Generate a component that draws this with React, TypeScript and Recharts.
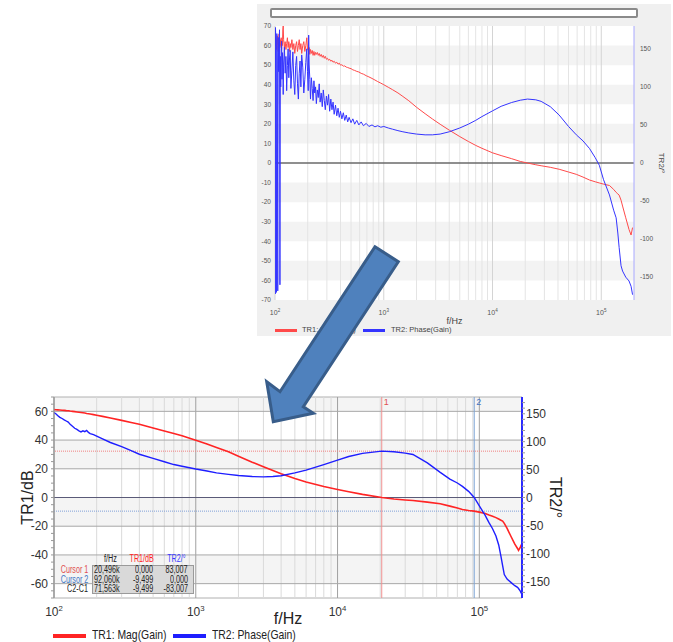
import React from "react";
import {
  LineChart,
  Line,
  XAxis,
  YAxis,
  ReferenceLine,
  ReferenceArea,
} from "recharts";

// ---- top (raw measurement) trace ----
const topFreq = [
  100, 100.5, 101, 102, 103, 104, 105, 106, 107, 108, 109, 110, 111, 112, 113, 114, 115, 116, 117, 118, 119,
  120, 122, 124, 126, 128, 130, 132, 134, 136, 138, 140, 143, 146, 149, 152, 155, 158, 161, 164, 167, 170,
  173, 176, 180, 184, 188, 192, 196, 199, 202, 204, 206, 209, 212, 216, 220, 224, 228, 232, 236, 240, 245,
  250, 255, 260, 266, 272, 278, 284, 290, 297, 304, 311, 318, 326, 334, 342, 350, 360, 370, 380, 390, 400,
  412, 425, 438, 452, 466, 480, 500, 520, 540, 565, 590, 620, 650, 690, 730, 780, 830, 880, 940, 1000,
  1100, 1200, 1350, 1500, 1700, 2000, 2400, 2800, 3300, 4000, 5000, 6000, 7000, 8000, 10000, 12000, 15000,
  18000, 21000, 25000, 28000, 34000, 41000, 50000, 59000, 68000, 78000, 88000, 96000, 105000, 119000,
  130000, 137000, 142000, 146000, 152000, 157000, 168000, 180000, 188000, 194000,
];
const topMag = [
  62, 64, 60, 63, 58, 62, 65, 60, 57, 62, 66, 61, 59, 63, 60, 64, 58, 62, 60, 68, 70,
  63, 59, 62, 58, 61, 64, 59, 62, 57, 61, 59, 63, 58, 61, 56, 60, 62, 57, 60, 63, 58,
  61, 56, 60, 62, 57, 60, 64, 58, 58, 56, 59, 55.5, 58, 56, 57.5, 55, 57, 55, 56.5, 55.5, 56.5,
  55, 56, 54.5, 55.5, 54, 55, 53.5, 54.5, 53, 53.5, 52.5, 53, 52, 52.5, 51.5, 52, 51, 51.5, 50.5, 51, 50,
  50.2, 49.5, 49.6, 49, 48.8, 48.5, 48.2, 47.6, 47.3, 46.8, 46.5, 45.8, 45.4, 44.6, 44, 43.2, 42.4, 41.6, 40.8, 40,
  38.7, 37.5, 35.8, 34, 31.8, 28.5, 25.2, 22.5, 19.8, 16.8, 13.5, 11, 9, 7.5, 5.2, 3.8, 2.2,
  0.8, 0, -0.9, -1.4, -2.2, -3.2, -4.6, -5.8, -7.2, -8.7, -9.6, -10.2, -10.8, -11.5,
  -13.5, -15, -15.8, -16.4, -19, -22, -28, -34, -36.8, -33,
];
const topPhase = [
  150, -172, 178, 160, -170, 170, 130, -168, 165, 120, 155, 175, -160, 140, 100, 150, 160, 110, 145, 125, 90,
  130, 152, 118, 140, 95, 128, 150, 112, 138, 148, 98, 122, 146, 108, 90, 128, 140, 104, 84, 118, 134,
  100, 142, 126, 92, 110, 132, 150, 120, 95, 168, 130, 110, 84, 112, 98, 82, 108, 92, 100, 78, 96,
  86, 104, 80, 92, 74, 96, 82, 70, 88, 76, 90, 68, 84, 70, 80, 64, 76, 62, 72, 60, 68,
  58, 66, 56, 63, 54, 60, 53, 58, 51, 56, 50, 54, 49, 52, 48, 50, 47.5, 49, 47, 48,
  46, 44.5, 42.5, 41, 39.5, 38, 37, 37, 38, 41, 46, 51, 56, 61, 68.5, 74.5, 79.5,
  82.5, 84, 83, 81, 74, 63, 48, 37, 29, 19, 7, -3, -22, -42,
  -62, -72, -92, -111, -135, -142, -150, -155, -162, -173,
];

// ---- bottom (smoothed) trace ----
const botFreq = [
  100, 103, 106, 110, 114, 118, 122, 126, 130, 135, 140, 145, 150, 155, 160, 165, 170, 175, 180, 190,
  200, 220, 250, 300, 350, 400, 500, 600, 700, 800, 1000, 1200, 1400, 1700, 2000, 2500, 3000, 3500,
  4000, 5000, 6000, 8000, 10000, 12000, 15000, 20500, 25000, 30000, 34000, 43000, 53000, 62000, 70000,
  76000, 84000, 92000, 100000, 110000, 117000, 124000, 131000, 137000, 142000, 146000, 150000, 157000,
  167000, 178000, 186000, 189000, 194000, 198000,
];
const botMag = [
  61.2, 61.1, 61, 60.9, 60.8, 60.7, 60.5, 60.4, 60.2, 60, 59.8, 59.6, 59.4, 59.2, 59, 58.8, 58.5, 58.3, 58.1, 57.7,
  57.3, 56.5, 55.4, 53.7, 52.3, 51, 48.4, 46.3, 44.6, 43, 39.8, 37.2, 34.8, 31.8, 28.7, 24.6, 21.5, 18.8,
  16.5, 13.2, 10.8, 7.6, 5.6, 4, 2.2, 0, -1, -1.7, -2.1, -3.2, -4.4, -6, -7.3,
  -8.3, -9, -9.5, -10.2, -11.2, -12.2, -13, -14, -15, -15.8, -16.4, -18, -21.5,
  -27, -32.5, -35.5, -36.8, -35, -32.7,
];
const botPhase = [
  152, 150, 147, 143.5, 141.5, 139, 137, 135, 131, 127.5, 124, 122, 119.5, 117.5, 119.5, 118, 120, 116.5, 114.5, 112.5,
  110, 105, 98.5, 91, 84, 77.5, 70, 64, 59, 56, 51, 47.5, 44, 41.5, 39.5, 37.5, 37, 37.5,
  39, 44, 49, 59, 67, 73.5, 79, 83, 82, 79.5, 77, 62, 45, 33, 26,
  20, 11, 0, -15, -32, -45, -56, -69, -85, -105, -122, -138, -146,
  -152, -158, -161, -163, -167, -172,
];

const decades = [100, 1000, 10000, 100000];
const minorFreq = [
  200, 300, 400, 500, 600, 700, 800, 900, 2000, 3000, 4000, 5000, 6000, 7000, 8000, 9000,
  20000, 30000, 40000, 50000, 60000, 70000, 80000, 90000,
];
const topMagTicks = [70, 60, 50, 40, 30, 20, 10, 0, -10, -20, -30, -40, -50, -60, -70];
const topPhaseTicks = [150, 100, 50, 0, -50, -100, -150];
const topBands = [[50, 60], [30, 40], [10, 20], [-20, -10], [-40, -30], [-60, -50]];
const botMagTicks = [
  70, 65, 60, 55, 50, 45, 40, 35, 30, 25, 20, 15, 10, 5, 0, -5, -10, -15, -20, -25, -30, -35,
  -40, -45, -50, -55, -60, -65, -70,
];
const botPhaseTicks = [
  170, 160, 150, 140, 130, 120, 110, 100, 90, 80, 70, 60, 50, 40, 30, 20, 10, 0, -10, -20, -30,
  -40, -50, -60, -70, -80, -90, -100, -110, -120, -130, -140, -150, -160, -170,
];
const botMajor = [60, 40, 20, -20, -40, -60];
const botBands = [[60, 70], [20, 40], [-20, 0], [-60, -40]];

const cursorRows = [
  { name: "Cursor 1", color: "#e05050", f: "20,496k", mag: "0,000", ph: "83,007" },
  { name: "Cursor 2", color: "#3f74c4", f: "92,060k", mag: "-9,499", ph: "0,000" },
  { name: "C2-C1", color: "#222", f: "71,563k", mag: "-9,499", ph: "-83,007" },
];

const topRows = topFreq.map((f, i) => ({ f, mag: topMag[i], ph: topPhase[i] }));
const botRows = botFreq.map((f, i) => ({ f, mag: botMag[i], ph: botPhase[i] }));

const FONT = "'Liberation Sans', Arial, sans-serif";

const decadeTick = (size: number, fill: string, dy: number) => (props: any) => {
  const { x, y, payload } = props;
  const exp = Math.round(Math.log10(payload.value));
  return (
    <text x={x} y={y} dy={dy} textAnchor="middle" fontSize={size} fill={fill} fontFamily={FONT}>
      10
      <tspan fontSize={size * 0.65} dy={-size * 0.42}>
        {exp}
      </tspan>
    </text>
  );
};

function TopChart() {
  return (
    <LineChart width={416} height={340} data={topRows} margin={{ top: 26, right: 0, bottom: 12, left: 0 }}>
      <XAxis
        dataKey="f"
        type="number"
        scale="log"
        domain={[100, 200000]}
        allowDataOverflow
        ticks={decades}
        interval={0}
        tick={decadeTick(7, "#555", 7)}
        tickLine={false}
        axisLine={false}
        height={28}
        label={{ value: "f/Hz", position: "insideBottom", offset: 4, fontSize: 9, fill: "#444", fontFamily: FONT }}
      />
      <YAxis
        yAxisId="left"
        type="number"
        domain={[-70, 70]}
        ticks={topMagTicks}
        interval={0}
        width={18}
        tickSize={0}
        tickMargin={4}
        axisLine={false}
        tick={{ fontSize: 6.5, fill: "#555", fontFamily: FONT }}
      />
      <YAxis
        yAxisId="right"
        orientation="right"
        type="number"
        domain={[-180, 180]}
        ticks={topPhaseTicks}
        interval={0}
        width={39}
        tickSize={0}
        tickMargin={6}
        axisLine={{ stroke: "#a8a8ff" }}
        tick={{ fontSize: 6.5, fill: "#555", fontFamily: FONT, textAnchor: "start" }}
        label={{ value: "TR2/°", angle: 90, position: "center", dx: 8, fontSize: 8, fill: "#444", fontFamily: FONT }}
      />
      <ReferenceArea yAxisId="left" x1={100} x2={200000} y1={-70} y2={70} fill="#ffffff" fillOpacity={1} stroke="none" />
      {topBands.map(([a, b]) => (
        <ReferenceArea key={`tb${a}`} yAxisId="left" x1={100} x2={200000} y1={a} y2={b} fill="#f3f3f3" fillOpacity={1} stroke="none" />
      ))}
      {minorFreq.map((f) => (
        <ReferenceLine key={`tm${f}`} yAxisId="left" x={f} stroke="#e4e4e4" />
      ))}
      {decades.map((f) => (
        <ReferenceLine key={`td${f}`} yAxisId="left" x={f} stroke="#d4d4d4" />
      ))}
      <ReferenceLine yAxisId="left" y={0} stroke="#6a6a6a" strokeWidth={1.5} />
      <Line yAxisId="left" dataKey="mag" type="linear" stroke="#ff4a4a" strokeWidth={1} dot={false} isAnimationActive={false} />
      <Line yAxisId="right" dataKey="ph" type="linear" stroke="#3434ff" strokeWidth={1} dot={false} isAnimationActive={false} />
    </LineChart>
  );
}

function BottomChart() {
  return (
    <LineChart width={580} height={245} data={botRows} margin={{ top: 7, right: 0, bottom: 0, left: 0 }}>
      <XAxis
        dataKey="f"
        type="number"
        scale="log"
        domain={[100, 200000]}
        allowDataOverflow
        ticks={decades}
        interval={0}
        tick={decadeTick(12, "#333", 10)}
        tickLine={false}
        axisLine={false}
        height={37}
        label={{ value: "f/Hz", position: "insideBottom", offset: 11, fontSize: 16, fill: "#222", fontFamily: FONT }}
      />
      <YAxis
        yAxisId="left"
        type="number"
        domain={[-70, 70]}
        ticks={botMagTicks}
        interval={0}
        width={54}
        tickSize={3}
        tickMargin={3}
        axisLine={{ stroke: "#999" }}
        tickLine={{ stroke: "#999" }}
        tickFormatter={(v: number) => (v % 20 === 0 && Math.abs(v) < 70 ? String(v) : "")}
        tick={{ fontSize: 12, fill: "#333", fontFamily: FONT }}
        label={{ value: "TR1/dB", angle: -90, position: "center", dx: 0, fontSize: 16, fill: "#222", fontFamily: FONT }}
      />
      <YAxis
        yAxisId="right"
        orientation="right"
        type="number"
        domain={[-180, 180]}
        ticks={botPhaseTicks}
        interval={0}
        width={58}
        tickSize={3}
        tickMargin={1}
        axisLine={{ stroke: "#2a2aff", strokeWidth: 2 }}
        tickLine={{ stroke: "#999" }}
        tickFormatter={(v: number) => (v % 50 === 0 ? String(v) : "")}
        tick={{ fontSize: 12, fill: "#333", fontFamily: FONT, textAnchor: "start" }}
        label={{ value: "TR2/°", angle: 90, position: "center", dx: 5, fontSize: 16, fill: "#222", fontFamily: FONT }}
      />
      {botBands.map(([a, b]) => (
        <ReferenceArea key={`bb${a}`} yAxisId="left" x1={100} x2={200000} y1={a} y2={b} fill="#f4f4f4" fillOpacity={1} stroke="none" />
      ))}
      {minorFreq.map((f) => (
        <ReferenceLine key={`bm${f}`} yAxisId="left" x={f} stroke="#dadada" />
      ))}
      {decades.map((f) => (
        <ReferenceLine key={`bd${f}`} yAxisId="left" x={f} stroke="#a0a0a0" />
      ))}
      {botMajor.map((v) => (
        <ReferenceLine key={`bh${v}`} yAxisId="left" y={v} stroke="#a8a8a8" />
      ))}
      <ReferenceLine yAxisId="left" y={0} stroke="#5a5a78" strokeWidth={1.2} />
      <ReferenceArea yAxisId="left" x1={100} x2={200000} y1={-70} y2={70} fill="none" stroke="#b0b0b0" />
      <ReferenceLine yAxisId="right" y={83.007} stroke="#f08080" strokeDasharray="1 1" />
      <ReferenceLine yAxisId="left" y={-9.499} stroke="#80a0d8" strokeDasharray="1 1" />
      <ReferenceLine
        yAxisId="left"
        x={20496}
        stroke="#f09090"
        label={{ value: "1", position: "insideTopLeft", offset: 2, fill: "#e05050", fontSize: 9, fontFamily: FONT }}
      />
      <ReferenceLine
        yAxisId="left"
        x={92060}
        stroke="#7fa6d6"
        label={{ value: "2", position: "insideTopLeft", offset: 2, fill: "#3f74c4", fontSize: 9, fontFamily: FONT }}
      />
      <Line yAxisId="left" dataKey="mag" type="linear" stroke="#ff2424" strokeWidth={1.6} dot={false} isAnimationActive={false} />
      <Line yAxisId="right" dataKey="ph" type="linear" stroke="#1e1eff" strokeWidth={1.4} dot={false} isAnimationActive={false} />
    </LineChart>
  );
}

const abs = (left: number, top: number, extra: React.CSSProperties = {}): React.CSSProperties => ({
  position: "absolute",
  left,
  top,
  ...extra,
});

// narrow text: the source screenshot is squeezed horizontally
function Squeezed({ left, top, width, align, size, color, squeeze = 0.8, children }: any) {
  return (
    <div style={abs(left, top, { width, textAlign: align, fontSize: size, lineHeight: `${size + 1}px`, color, whiteSpace: "nowrap" })}>
      <span style={{ display: "inline-block", transform: `scaleX(${squeeze})`, transformOrigin: align === "right" ? "right center" : "left center" }}>
        {children}
      </span>
    </div>
  );
}

export default function App() {
  return (
    <div style={{ position: "absolute", left: 0, top: 0, width: 673, height: 642, background: "#fff", overflow: "hidden", fontFamily: FONT }}>
      {/* upper panel */}
      <div style={abs(257, 4, { width: 414, height: 332, background: "#f0f0f0" })} />
      <div style={abs(270, 8, { width: 364, height: 6, background: "#fff", border: "2px solid #8a8a8a", borderRadius: 2 })} />
      <div style={abs(257, 0)}>
        <TopChart />
      </div>
      <div style={abs(275, 329, { width: 22, height: 3, background: "#ff4a4a" })} />
      <div style={abs(302, 325, { fontSize: 7.5, color: "#444", lineHeight: "10px" })}>TR1: Mag(Gain)</div>
      <div style={abs(363, 329, { width: 22, height: 3, background: "#3434ff" })} />
      <div style={abs(391, 325, { fontSize: 7.5, color: "#444", lineHeight: "10px" })}>TR2: Phase(Gain)</div>

      {/* lower chart */}
      <div style={abs(0, 390)}>
        <BottomChart />
      </div>
      <Squeezed left={90} top={553} width={27} align="right" size={10} squeeze={0.72} color="#222">f/Hz</Squeezed>
      <Squeezed left={120} top={553} width={33} align="right" size={10} squeeze={0.72} color="#ff2424">TR1/dB</Squeezed>
      <Squeezed left={160} top={553} width={25} align="right" size={10} squeeze={0.72} color="#3a3aff">TR2/°</Squeezed>
      <div style={abs(92, 565, { width: 100, height: 27, background: "#d9d9d9", border: "1px solid #9a9a9a" })} />
      {cursorRows.map((r, i) => (
        <React.Fragment key={r.name}>
          <Squeezed left={38} top={564 + i * 9.5} width={50} align="right" size={10} squeeze={0.72} color={r.color}>{r.name}</Squeezed>
          <Squeezed left={82} top={564 + i * 9.5} width={38} align="right" size={10} squeeze={0.72} color="#222">{r.f}</Squeezed>
          <Squeezed left={118} top={564 + i * 9.5} width={35} align="right" size={10} squeeze={0.72} color="#222">{r.mag}</Squeezed>
          <Squeezed left={150} top={564 + i * 9.5} width={38} align="right" size={10} squeeze={0.72} color="#222">{r.ph}</Squeezed>
        </React.Fragment>
      ))}
      <div style={abs(53, 634, { width: 33, height: 4, background: "#ff2424" })} />
      <Squeezed left={92} top={628} width={80} align="left" size={13} color="#222">TR1: Mag(Gain)</Squeezed>
      <div style={abs(173, 634, { width: 33, height: 4, background: "#1e1eff" })} />
      <Squeezed left={212} top={628} width={95} align="left" size={13} color="#222">TR2: Phase(Gain)</Squeezed>

      {/* arrow between the two plots */}
      <svg width={673} height={642} style={abs(0, 0, { pointerEvents: "none" })}>
        <polygon
          points="375,246.7 398.3,261.7 303.3,406.7 313.3,413.3 273.3,421.7 266.7,381.7 280,391.7"
          fill="#4f81bd"
          stroke="#385d8a"
          strokeWidth={3}
          strokeLinejoin="miter"
        />
      </svg>
    </div>
  );
}
